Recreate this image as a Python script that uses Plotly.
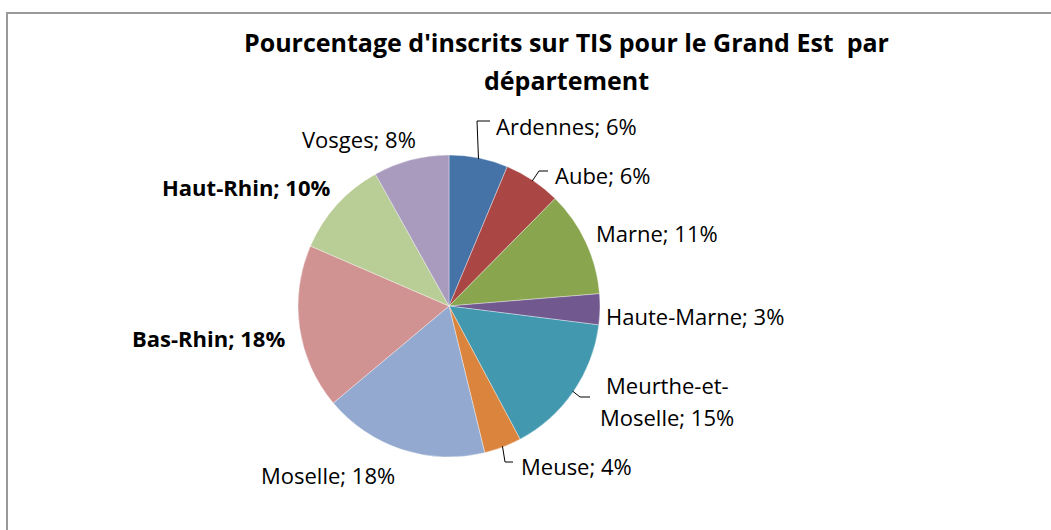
import math
import plotly.graph_objects as go

# ---- data ----
departements = ["Ardennes", "Aube", "Marne", "Haute-Marne", "Meurthe-et-Moselle",
                "Meuse", "Moselle", "Bas-Rhin", "Haut-Rhin", "Vosges"]
pourcentages = [6.3, 6.1, 11.3, 3.3, 15.2, 4.0, 17.7, 17.6, 10.4, 8.1]
label_lines = [["Ardennes"], ["Aube"], ["Marne"], ["Haute-Marne"], ["Meurthe-et-", "Moselle"],
               ["Meuse"], ["Moselle"], ["Bas-Rhin"], ["Haut-Rhin"], ["Vosges"]]
bold_labels = ["Bas-Rhin", "Haut-Rhin"]
colors = ["#4572A7", "#AA4643", "#89A54E", "#71588F", "#4198AF",
          "#DB843D", "#93A9CF", "#D19392", "#B9CD96", "#A99BBD"]
title_lines = ["Pourcentage d'inscrits sur TIS pour le Grand Est  par", "département"]

# ---- layout (pixels) ----
W, H = 1051, 530
CX, CY, R = 449, 306, 151
FONT = "Open Sans"
LABEL_SIZE = 22
LINE_GAP = 32

def px(x):
    return x / W

def py(y):
    return 1 - y / H

# label anchor positions (pixel) and anchors
label_pos = {
    "Ardennes": (494, 126, "left"),
    "Aube": (553, 175, "left"),
    "Marne": (594, 233, "left"),
    "Haute-Marne": (604, 316, "left"),
    "Meurthe-et-Moselle": (667, 401, "center"),
    "Meuse": (519, 466, "left"),
    "Moselle": (328, 475, "center"),
    "Bas-Rhin": (287, 338, "right"),
    "Haut-Rhin": (333, 187, "right"),
    "Vosges": (359, 139, "center"),
}
# leader elbows (pixel) for labels that have leader lines
leaders = {
    "Ardennes": [(477, 121), (490, 121)],
    "Aube": [(539, 171), (548, 171)],
    "Meurthe-et-Moselle": [(580, 397), (590, 397)],
    "Meuse": [(505, 462), (513, 462)],
}

fig = go.Figure(go.Pie(
    labels=departements,
    values=pourcentages,
    sort=False,
    direction="clockwise",
    rotation=0,
    marker=dict(colors=colors, line=dict(color="rgba(255,255,255,0.6)", width=0.6)),
    textinfo="none",
    showlegend=False,
    domain=dict(x=[px(CX - R), px(CX + R)], y=[py(CY + R), py(CY - R)]),
))

total = sum(pourcentages)
annotations = []
shapes = []
cum = 0.0
for name, lines, val in zip(departements, label_lines, pourcentages):
    mid = (cum + val / 2) / total * 2 * math.pi
    cum += val
    x, y, anchor = label_pos[name]
    texts = lines[:-1] + [f"{lines[-1]}; {round(val)}%"]
    n = len(texts)
    for i, t in enumerate(texts):
        if name in bold_labels:
            t = f"<b>{t}</b>"
        yy = y + (i - (n - 1) / 2) * LINE_GAP
        annotations.append(dict(
            x=px(x), y=py(yy), xref="paper", yref="paper", text=t, showarrow=False,
            xanchor=anchor, yanchor="middle", align="center",
            font=dict(family=FONT, size=LABEL_SIZE, color="#000000"),
        ))
    if name in leaders:
        sx = CX + (R - 1) * math.sin(mid)
        sy = CY - (R - 1) * math.cos(mid)
        pts = [(sx, sy)] + leaders[name]
        path = "M " + " L ".join(f"{px(a)},{py(b)}" for a, b in pts)
        shapes.append(dict(type="path", xref="paper", yref="paper", path=path,
                           line=dict(color="#000000", width=1)))

for t, yy in zip(title_lines, [42, 80]):
    annotations.append(dict(
        x=px(566), y=py(yy), xref="paper", yref="paper", text=f"<b>{t}</b>",
        showarrow=False, xanchor="center", yanchor="middle", align="center",
        font=dict(family=FONT, size=25, color="#000000"),
    ))

# chart border
shapes.append(dict(type="rect", xref="paper", yref="paper",
                   x0=px(7), y0=-0.1, x1=1.1, y1=py(13),
                   line=dict(color="#9A9A9A", width=2)))

fig.update_layout(
    width=W, height=H,
    margin=dict(l=0, r=0, t=0, b=0),
    paper_bgcolor="white", plot_bgcolor="white",
    annotations=annotations, shapes=shapes,
)
fig.write_html("out.html", config={"displayModeBar": False},
               post_script="document.body.style.margin='0px';")
